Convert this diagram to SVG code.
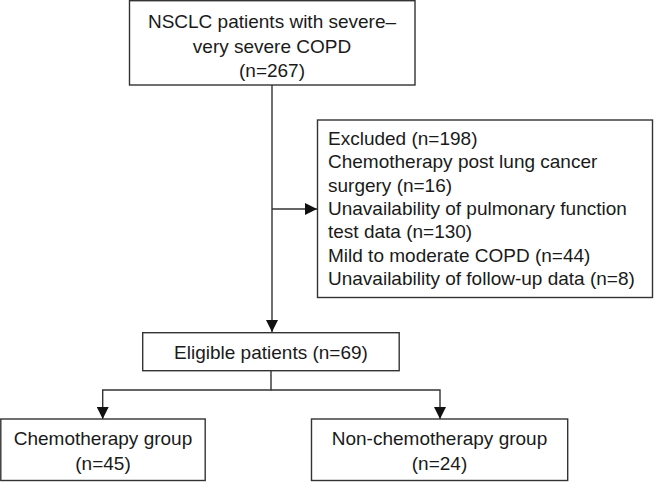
<svg xmlns="http://www.w3.org/2000/svg" width="654" height="482" viewBox="0 0 654 482">
<style>
.box{fill:#fff;stroke:#333;stroke-width:1.4}
.ln{fill:none;stroke:#333;stroke-width:1.4}
text{font-family:"Liberation Sans",Arial,sans-serif;font-size:19px;fill:#1a1a1a}
.c{text-anchor:middle}
</style>
<defs>
<marker id="ah" markerUnits="userSpaceOnUse" markerWidth="12" markerHeight="12" refX="12" refY="6" orient="auto">
<path d="M0,0 L12,6 L0,12 z" fill="#111"/>
</marker>
</defs>
<rect width="654" height="482" fill="#fff"/>
<g id="connectors">
<line class="ln" x1="272" y1="85" x2="272" y2="332" marker-end="url(#ah)"/>
<line class="ln" x1="272" y1="209" x2="317" y2="209" marker-end="url(#ah)"/>
<polyline class="ln" points="271,371 271,390 102.7,390 102.7,419" marker-end="url(#ah)"/>
<polyline class="ln" points="271,390 440,390 440,419" marker-end="url(#ah)"/>
</g>
<g id="n-start">
<rect class="box" x="129.5" y="0.7" width="285.5" height="84.3"/>
<text class="c" x="272" y="28">NSCLC patients with severe–</text>
<text class="c" x="272" y="52.5">very severe COPD</text>
<text class="c" x="272" y="77">(n=267)</text>
</g>
<g id="n-excluded">
<rect class="box" x="317.5" y="120" width="335" height="177.5"/>
<text x="328" y="145">Excluded (n=198)</text>
<text x="328" y="168.3">Chemotherapy post lung cancer</text>
<text x="328" y="191.6">surgery (n=16)</text>
<text x="328" y="215">Unavailability of pulmonary function</text>
<text x="328" y="238.3">test data (n=130)</text>
<text x="328" y="261.6">Mild to moderate COPD (n=44)</text>
<text x="328" y="285">Unavailability of follow-up data (n=8)</text>
</g>
<g id="n-eligible">
<rect class="box" x="142.7" y="332.7" width="256.5" height="38"/>
<text class="c" x="271" y="359">Eligible patients (n=69)</text>
</g>
<g id="n-chemo">
<rect class="box" x="0.8" y="419" width="204.4" height="61.5"/>
<text class="c" x="103" y="445">Chemotherapy group</text>
<text class="c" x="103" y="469.5">(n=45)</text>
</g>
<g id="n-nonchemo">
<rect class="box" x="311.5" y="419" width="256.2" height="61.5"/>
<text class="c" x="439.5" y="445">Non-chemotherapy group</text>
<text class="c" x="439.5" y="469.5">(n=24)</text>
</g>
</svg>
